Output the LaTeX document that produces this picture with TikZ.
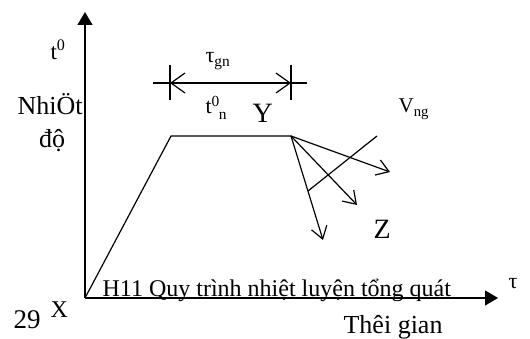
\documentclass[tikz,border=0pt]{standalone}
\usepackage{fontspec}
\setmainfont{Liberation Serif}
\usetikzlibrary{arrows.meta}
\tikzset{
  axis/.style={-{Triangle[length=13pt,width=15pt]}},
  barb/.style={-{Straight Barb[length=12pt,width=16pt]}},
  dimarrow/.style={{Straight Barb[length=14pt,width=20pt]}-{Straight Barb[length=14pt,width=20pt]}},
  txt/.style={inner sep=0pt, anchor=base west},
}
\newcommand{\fsz}[1]{\fontsize{#1}{#1}\selectfont}
\begin{document}
\begin{tikzpicture}[x=1pt, y=-1pt, line width=1.2pt]
  \useasboundingbox (0,0) rectangle (530,339);
  \coordinate (O) at (85,298);
  \coordinate (ytop) at (85,12);
  \coordinate (xend) at (498,298);
  \coordinate (A) at (171,136);
  \coordinate (B) at (291,136);
  \coordinate (c1) at (390,172);
  \coordinate (c2) at (357,205);
  \coordinate (c3) at (323,240);
  \coordinate (v1) at (377,136);
  \coordinate (v2) at (308,191);
  \draw[axis] (O) -- (ytop);
  \draw[axis] (O) -- (xend);
  \draw (O) -- (A) -- (B);
  \draw[barb] (B) -- (c1);
  \draw[barb] (B) -- (c2);
  \draw[barb] (B) -- (c3);
  \draw (v1) -- (v2);
  % thoi gian giu nhiet
  \coordinate (d1) at (170,83);
  \coordinate (d2) at (291,83);
  \draw (170,65) -- (170,100);
  \draw (291,65) -- (291,100);
  \draw (153,83) -- (d1);
  \draw (d2) -- (307,83);
  \draw[dimarrow] (d1) -- (d2);
  % nhan
  \node[txt, font=\fsz{23}] (t0) at (50,60) {t\textsuperscript{0}};
  \node[txt, font=\fsz{26}] (nhiet) at (17,115) {NhiÖt};
  \node[font=\fsz{26}, inner sep=0pt, anchor=base] (do) at (52,148) {độ};
  \node[txt, font=\fsz{27}] (n29) at (13,328) {29};
  \node[txt, font=\fsz{24}] (X) at (50,317) {X};
  \node[txt, font=\fsz{22}] (tgn) at (205,63) {τ\textsubscript{gn}};
  \node[txt, font=\fsz{22}] (t0n) at (205,114) {t\textsuperscript{0}\kern-1pt\raisebox{-2pt}{\textsubscript{n}}};
  \node[txt, font=\fsz{28}] (Y) at (252,123) {Y};
  \node[txt, font=\fsz{21}] (Vng) at (398,113) {V\textsubscript{ng}};
  \node[txt, font=\fsz{28}] (Z) at (373,238) {Z};
  \node[txt, font=\fsz{22}] (tau) at (508,288) {τ};
  \node[txt, font=\fsz{24}] (cap) at (102,296) {H11 Quy trình nhiệt luyện tổng quát};
  \node[txt, font=\fsz{26}] (tg) at (343,333) {Thêi gian};
\end{tikzpicture}
\end{document}
